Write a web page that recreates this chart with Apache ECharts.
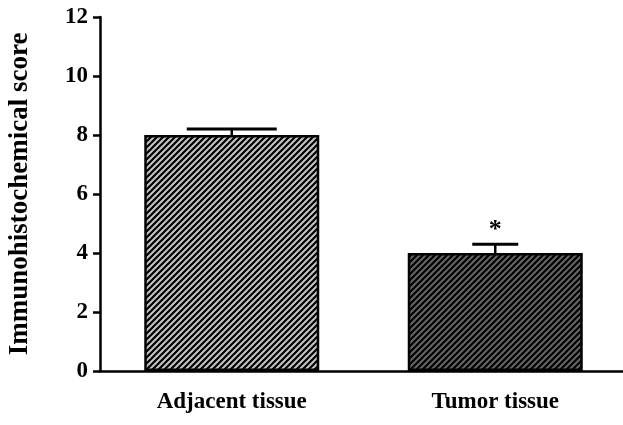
<!DOCTYPE html>
<html>
<head>
<meta charset="utf-8">
<script src="https://cdn.jsdelivr.net/npm/echarts@6/dist/echarts.min.js"></script>
<style>
  html, body { margin: 0; padding: 0; background: #fff; }
  #main { width: 623px; height: 425px; }
</style>
</head>
<body>
<div id="main"></div>
<script>
var categories = ['Adjacent tissue', 'Tumor tissue'];
var means = [8, 4];
var errors = [0.2, 0.3];
var marks = ['', '*'];
var yTicks = [0, 2, 4, 6, 8, 10, 12];

// hatch fill: gray background with black "/" stripes
function hatch(bg, size) {
  var c = document.createElement('canvas');
  c.width = size; c.height = size;
  var ctx = c.getContext('2d');
  ctx.fillStyle = bg;
  ctx.fillRect(0, 0, size, size);
  ctx.strokeStyle = '#000';
  ctx.lineWidth = 2.2;
  ctx.beginPath();
  ctx.moveTo(-1, size + 1); ctx.lineTo(size + 1, -1);
  ctx.moveTo(-1, 1); ctx.lineTo(1, -1);
  ctx.moveTo(size - 1, size + 1); ctx.lineTo(size + 1, size - 1);
  ctx.stroke();
  return c;
}

var fills = [hatch('#c4c4c4', 6), hatch('#666666', 6)];
var capHalf = [45, 23];

var chart = echarts.init(document.getElementById('main'));
var font = 'Liberation Serif';

var option = {
  animation: false,
  grid: { left: 100, right: -4, top: 17, bottom: 54, outerBoundsMode: 'none', containLabel: false },
  xAxis: {
    type: 'category',
    data: categories,
    axisLine: { lineStyle: { color: '#000', width: 2.5 } },
    axisTick: { alignWithLabel: true, length: 8, lineStyle: { color: '#000', width: 2.5 } },
    axisLabel: { color: '#000', fontFamily: font, fontWeight: 'bold', fontSize: 23, margin: 20 }
  },
  yAxis: {
    type: 'value',
    min: 0, max: 12, interval: 2,
    name: 'Immunohistochemical score',
    nameLocation: 'middle',
    nameGap: 66,
    nameTextStyle: { color: '#000', fontFamily: font, fontWeight: 'bold', fontSize: 27 },
    axisLine: { show: true, lineStyle: { color: '#000', width: 2.5 } },
    axisTick: { show: true, length: 7, lineStyle: { color: '#000', width: 2.5 } },
    axisLabel: {
      color: '#000', fontFamily: font, fontWeight: 'bold', fontSize: 23, margin: 12,
      formatter: function (v) { return yTicks.indexOf(v) >= 0 ? String(v) : ''; }
    },
    splitLine: { show: false }
  },
  series: [
    {
      type: 'bar',
      barWidth: 175,
      data: means.map(function (v, i) {
        return {
          value: v,
          itemStyle: {
            color: { image: fills[i], repeat: 'repeat' },
            borderColor: '#000',
            borderWidth: 2.5
          }
        };
      }),
      z: 2
    },
    {
      type: 'custom',
      data: means.map(function (v, i) { return [i, v, errors[i]]; }),
      renderItem: function (params, api) {
        var i = api.value(0);
        var base = api.coord([i, api.value(1)]);
        var top = api.coord([i, api.value(1) + api.value(2)]);
        var hw = capHalf[i];
        var children = [
          { type: 'line', shape: { x1: base[0], y1: base[1], x2: top[0], y2: top[1] }, style: { stroke: '#000', lineWidth: 2.5 } },
          { type: 'line', shape: { x1: top[0] - hw, y1: top[1], x2: top[0] + hw, y2: top[1] }, style: { stroke: '#000', lineWidth: 3 } }
        ];
        if (marks[i]) {
          children.push({
            type: 'text',
            x: top[0], y: top[1] - 1,
            style: { text: marks[i], fill: '#000', font: 'bold 26px ' + font, align: 'center', verticalAlign: 'bottom' }
          });
        }
        return { type: 'group', children: children };
      },
      z: 3
    }
  ]
};
chart.setOption(option);
</script>
</body>
</html>
